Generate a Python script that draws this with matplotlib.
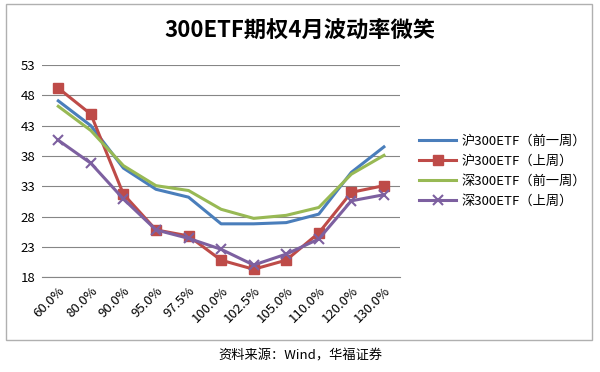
import matplotlib.pyplot as plt
from matplotlib.patches import Rectangle
import numpy as np

plt.rcParams["font.family"] = ["Noto Sans CJK SC", "DejaVu Sans"]

strikes = ["60.0%", "80.0%", "90.0%", "95.0%", "97.5%", "100.0%",
           "102.5%", "105.0%", "110.0%", "120.0%", "130.0%"]
hu_prev = [47.1, 43.0, 36.0, 32.5, 31.2, 26.8, 26.8, 27.0, 28.4, 35.3, 39.5]
hu_last = [49.2, 44.9, 31.7, 25.8, 24.8, 20.8, 19.3, 20.8, 25.3, 32.0, 33.1]
shen_prev = [46.2, 42.2, 36.4, 33.1, 32.3, 29.2, 27.7, 28.2, 29.5, 35.0, 38.1]
shen_last = [40.6, 36.8, 30.9, 25.8, 24.4, 22.6, 20.0, 21.8, 24.3, 30.6, 31.6]
yticks = [18, 23, 28, 33, 38, 43, 48, 53]

fig = plt.figure(figsize=(6, 3.72), dpi=100)
# chart frame
fig.patches.append(Rectangle((6 / 600, 1 - 340 / 372), 586 / 600, 336 / 372,
                             transform=fig.transFigure, fill=False,
                             edgecolor="#b0b0b0", lw=1))
ax = fig.add_axes([0.07, 0.255, 0.597, 0.57])

x = np.arange(len(strikes))
ax.plot(x, hu_prev, color="#4A7EBB", lw=2.2, label="沪300ETF（前一周）")
ax.plot(x, hu_last, color="#BE4B48", lw=2.2, marker="s", ms=7,
        label="沪300ETF（上周）")
ax.plot(x, shen_prev, color="#98B954", lw=2.2, label="深300ETF（前一周）")
ax.plot(x, shen_last, color="#7D60A0", lw=2.2, marker="x", ms=7, mew=1.5,
        label="深300ETF（上周）")

ax.set_xlim(-0.5, len(strikes) - 0.5)
ax.set_ylim(18, 53)
ax.set_yticks(yticks)
ax.set_yticklabels([str(v) for v in yticks], fontsize=9.5)
ax.yaxis.grid(True, color="#868686", lw=0.8)
ax.set_axisbelow(True)
ax.set_xticks(x)
ax.set_xticklabels(strikes, rotation=45, ha="right", rotation_mode="anchor",
                   fontsize=9.5)
ax.tick_params(length=0, pad=5)
for s in ["top", "right", "left"]:
    ax.spines[s].set_visible(False)
ax.spines["bottom"].set_color("#868686")

ax.legend(loc="center left", bbox_to_anchor=(1.02, 0.5), frameon=False,
          fontsize=9.5, handlelength=2.8, handletextpad=0.4, labelspacing=0.55)

fig.text(0.5, 1 - 30 / 372, "300ETF期权4月波动率微笑", ha="center",
         va="center", fontsize=16, fontweight="bold")
fig.text(0.5, 1 - 356 / 372, "资料来源：Wind，华福证券", ha="center",
         va="center", fontsize=9.5)

fig.savefig("out.png", dpi=100)
